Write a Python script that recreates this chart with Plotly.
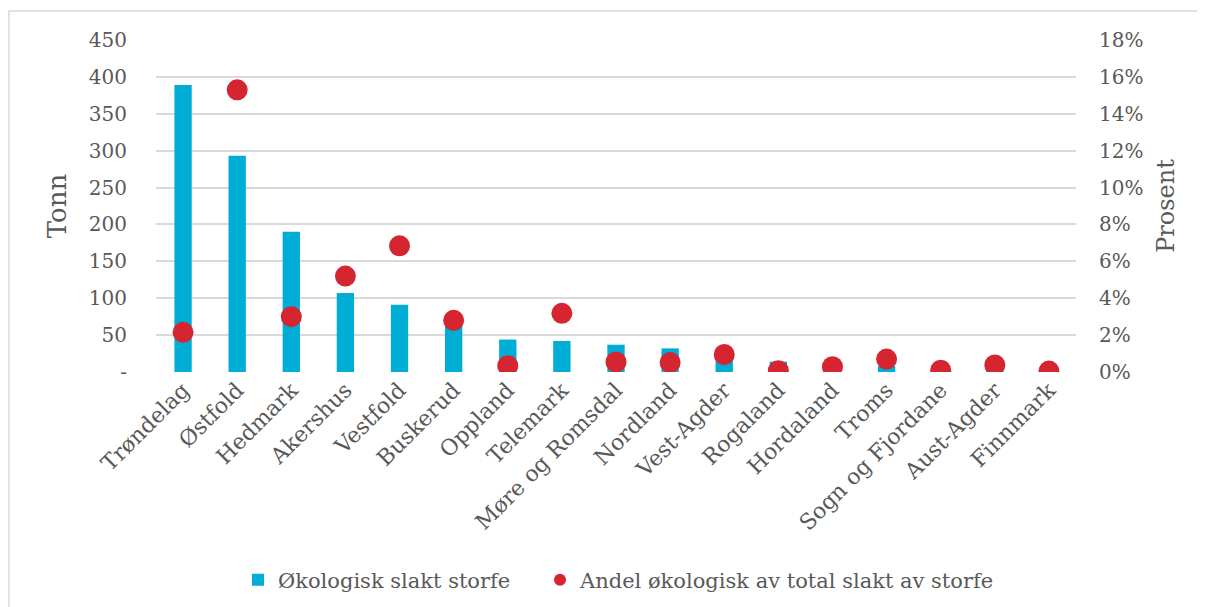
import plotly.graph_objects as go

categories = ["Trøndelag", "Østfold", "Hedmark", "Akershus", "Vestfold", "Buskerud",
              "Oppland", "Telemark", "Møre og Romsdal", "Nordland", "Vest-Agder",
              "Rogaland", "Hordaland", "Troms", "Sogn og Fjordane", "Aust-Agder", "Finnmark"]
tonn = [389, 293, 190, 107, 91, 68, 44, 42, 37, 32, 21, 14, 5, 8, 2, 3, 1]
andel = [0.0215, 0.153, 0.030, 0.052, 0.0684, 0.028, 0.0034, 0.0318, 0.0054, 0.0052,
         0.0095, 0.0007, 0.0029, 0.007, 0.001, 0.0038, 0.0005]

left_ticks = [0, 50, 100, 150, 200, 250, 300, 350, 400, 450]
left_ticktext = ["-", "50", "100", "150", "200", "250", "300", "350", "400", "450"]
right_ticks = [0, 0.02, 0.04, 0.06, 0.08, 0.10, 0.12, 0.14, 0.16, 0.18]

BAR = "#00ADD5"
DOT = "#D42530"
TXT = "#595959"
FONT = "DejaVu Serif"

# page body adds an 8px offset; compensate in margins
L, T, PW, PH = 148, 32, 920, 332
W, H = 1205, 607

fig = go.Figure()
fig.add_trace(go.Bar(x=categories, y=tonn, name="Økologisk slakt storfe",
                     marker=dict(color=BAR, line=dict(width=0)), yaxis="y", legend="legend"))
fig.add_trace(go.Scatter(x=categories, y=andel, name="Andel økologisk av total slakt av storfe",
                         mode="markers", marker=dict(color=DOT, size=21), yaxis="y2",
                         legend="legend2"))

leg_y = -(572 - (T + PH)) / PH
fig.update_layout(
    width=W, height=H,
    margin=dict(l=L, r=W - L - PW, t=T, b=H - T - PH),
    paper_bgcolor="white", plot_bgcolor="white",
    font=dict(family=FONT, color=TXT, size=20),
    bargap=0.68,
    showlegend=True,
    legend=dict(orientation="h", x=(238 - 8 - L) / PW, xanchor="left", y=leg_y, yanchor="middle",
                font=dict(size=21, color=TXT), itemwidth=30, bgcolor="rgba(0,0,0,0)"),
    legend2=dict(orientation="h", x=(540 - 8 - L) / PW, xanchor="left", y=leg_y, yanchor="middle",
                 font=dict(size=21, color=TXT), itemwidth=30, itemsizing="constant",
                 bgcolor="rgba(0,0,0,0)"),
    xaxis=dict(range=[-0.5, len(categories) - 0.5], tickangle=-45, tickfont=dict(size=22),
               showgrid=False, showline=False, ticks="", automargin=False),
    yaxis=dict(range=[0, 450], tickvals=left_ticks, ticktext=left_ticktext,
               showgrid=True, gridcolor="#D9D9D9", gridwidth=1.5, zeroline=False,
               ticklabelstandoff=28, automargin=False,
               title=dict(text="Tonn", font=dict(size=26, color=TXT), standoff=14)),
    yaxis2=dict(range=[0, 0.18], tickvals=right_ticks, tickformat=".0%",
                overlaying="y", side="right", showgrid=False, zeroline=False,
                ticklabelstandoff=22, automargin=False,
                title=dict(text="Prosent", font=dict(size=24, color=TXT), standoff=14)),
    shapes=[dict(type="rect", xref="paper", yref="paper",
                 x0=-(L - 1) / PW, x1=1.3, y0=-1.0, y1=(PH + T - 3) / PH,
                 line=dict(color="#D9D9D9", width=1.5), fillcolor="rgba(0,0,0,0)", layer="below")],
)

fig.write_html("out.html")
